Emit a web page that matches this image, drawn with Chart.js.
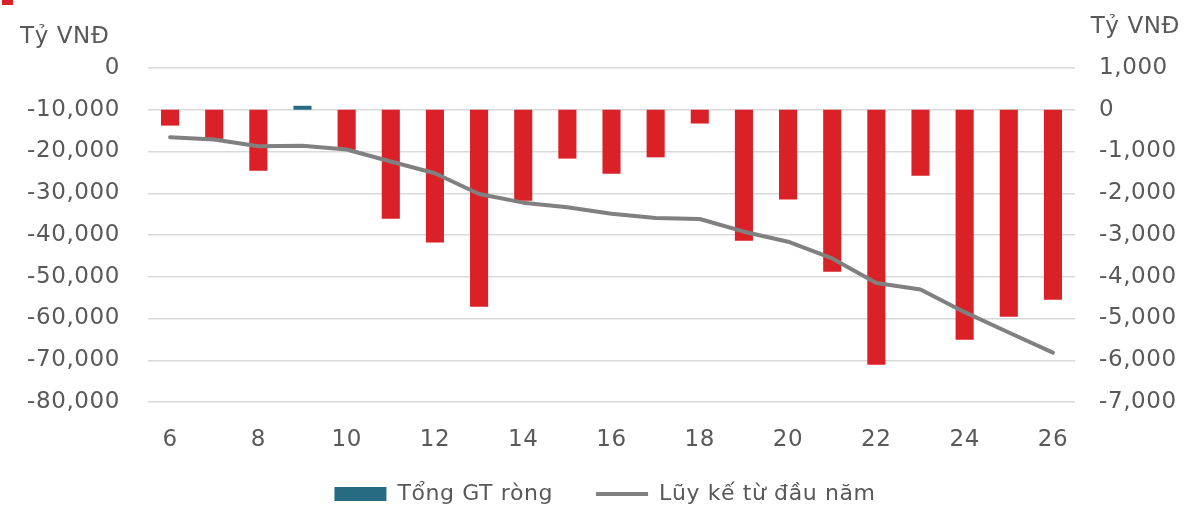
<!DOCTYPE html>
<html>
<head>
<meta charset="utf-8">
<script src="https://cdn.jsdelivr.net/npm/chart.js@4.4.1/dist/chart.umd.min.js"></script>
<style>
  html, body { margin: 0; padding: 0; background: #fff; }
  #wrap { position: relative; width: 1186px; height: 508px; }
</style>
</head>
<body>
<div id="wrap"><canvas id="chart" width="1186" height="508"></canvas></div>
<script>
// weeks
const labels = ['6', '7', '8', '9', '10', '11', '12', '13', '14', '15', '16',
  '17', '18', '19', '20', '21', '22', '23', '24', '25', '26'];

// Tổng GT ròng (right axis)
const netValues = [-380, -700, -1460, 95, -960, -2610, -3180, -4720, -2180, -1170, -1530,
  -1140, -330, -3140, -2150, -3880, -6110, -1580, -5510, -4960, -4550];

// Lũy kế từ đầu năm (left axis)
const cumulative = [-16560, -17130, -18720, -18650, -19530, -22400, -25200, -30170, -32250, -33360, -34890,
  -35930, -36170, -39210, -41610, -45600, -51520, -53040, -58480, -63360, -68160];

const leftRange = [-80000, 0, 10000];
const rightRange = [-7000, 1000, 1000];
const unitLabel = 'Tỷ VNĐ';
const seriesNames = ['Tổng GT ròng', 'Lũy kế từ đầu năm'];

const NEG_COLOR = '#DA2128';
const POS_COLOR = '#276B82';
const LINE_COLOR = '#808080';
const TEXT_COLOR = '#595959';
const GRID_COLOR = '#D9D9D9';
const TICK_FONT = { family: 'DejaVu Sans', size: 23 };

const fmt = (v) => Number(v).toLocaleString('en-US');

const extras = {
  id: 'extras',
  beforeUpdate(chart) { chart.ctx.letterSpacing = '0.6px'; },
  beforeDraw(chart) { chart.ctx.letterSpacing = '0.6px'; },
  afterLayout(chart) {
    // legend sits a bit right of centre in the original
    const lg = chart.legend;
    lg.left += 12;
    lg.right += 12;
    lg.top -= 13;
    lg.bottom -= 13;
  },
  afterDraw(chart) {
    const ctx = chart.ctx;
    ctx.save();
    ctx.font = '23px "DejaVu Sans"';
    ctx.fillStyle = TEXT_COLOR;
    ctx.textBaseline = 'alphabetic';
    ctx.textAlign = 'left';
    ctx.fillText(unitLabel, 20, 43);
    ctx.textAlign = 'right';
    ctx.fillText(unitLabel, chart.width - 6, 33);
    // marker left over from the cropped heading
    ctx.fillStyle = NEG_COLOR;
    ctx.fillRect(2, 0, 11, 5);
    ctx.restore();
  }
};

const ctx = document.getElementById('chart').getContext('2d');

new Chart(ctx, {
  type: 'bar',
  data: {
    labels: labels,
    datasets: [
      {
        type: 'bar',
        label: seriesNames[0],
        data: netValues,
        yAxisID: 'y1',
        backgroundColor: netValues.map(v => (v < 0 ? NEG_COLOR : POS_COLOR)),
        borderWidth: 0,
        barPercentage: 0.41,
        categoryPercentage: 1,
        order: 1
      },
      {
        type: 'line',
        label: seriesNames[1],
        data: cumulative,
        yAxisID: 'y',
        borderColor: LINE_COLOR,
        backgroundColor: LINE_COLOR,
        borderWidth: 4,
        borderJoinStyle: 'round',
        borderCapStyle: 'round',
        pointRadius: 0,
        tension: 0,
        fill: false,
        order: 0
      }
    ]
  },
  options: {
    responsive: false,
    animation: false,
    layout: { padding: { top: 68, left: 0, right: 0, bottom: -20 } },
    scales: {
      x: {
        afterFit: (scale) => { scale.height = 51; },
        grid: { display: false, drawTicks: false },
        border: { display: false },
        ticks: {
          autoSkip: false,
          maxRotation: 0,
          padding: 24,
          color: TEXT_COLOR,
          font: TICK_FONT,
          callback: (val, i) => (i % 2 === 0 ? labels[i] : '')
        }
      },
      y: {
        position: 'left',
        min: leftRange[0],
        max: leftRange[1],
        afterFit: (scale) => { scale.width = 148; },
        grid: { color: GRID_COLOR, lineWidth: 1.5, drawTicks: false },
        border: { display: false },
        ticks: {
          stepSize: leftRange[2],
          padding: 28,
          color: TEXT_COLOR,
          font: TICK_FONT,
          callback: fmt
        }
      },
      y1: {
        position: 'right',
        min: rightRange[0],
        max: rightRange[1],
        afterFit: (scale) => { scale.width = 111; },
        grid: { display: false, drawTicks: false },
        border: { display: false },
        ticks: {
          stepSize: rightRange[2],
          padding: 24,
          color: TEXT_COLOR,
          font: TICK_FONT,
          callback: fmt
        }
      }
    },
    plugins: {
      tooltip: { enabled: false },
      legend: {
        position: 'bottom',
        maxHeight: 75,
        labels: {
          usePointStyle: true,
          pointStyleWidth: 52,
          boxHeight: 14,
          padding: 43,
          color: TEXT_COLOR,
          font: { family: 'DejaVu Sans', size: 22 },
          sort: (a, b) => a.datasetIndex - b.datasetIndex,
          generateLabels: (chart) => {
            const items = Chart.defaults.plugins.legend.labels.generateLabels(chart);
            items.forEach(item => {
              if (item.datasetIndex === 0) {
                item.fillStyle = POS_COLOR;
                item.strokeStyle = POS_COLOR;
                item.lineWidth = 0;
                item.pointStyle = 'rect';
              } else {
                item.strokeStyle = LINE_COLOR;
                item.lineWidth = 4;
                item.pointStyle = 'line';
              }
            });
            return items;
          }
        }
      }
    }
  },
  plugins: [extras]
});
</script>
</body>
</html>
